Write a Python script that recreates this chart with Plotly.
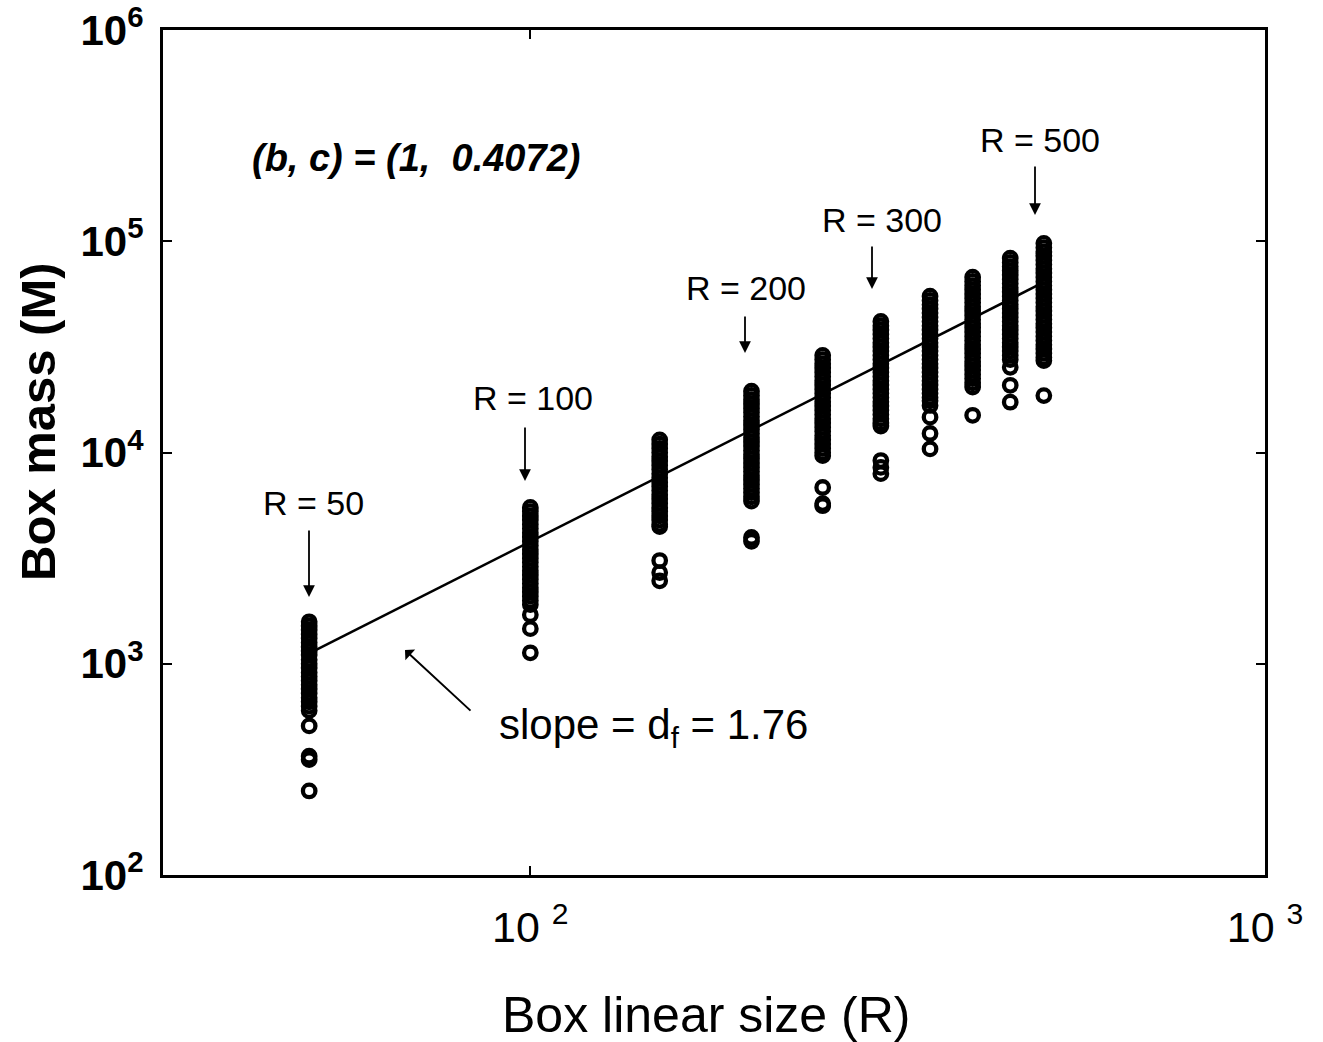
import math
import plotly.graph_objects as go

# ---------------- data ----------------
box_sizes = [50, 100, 150, 200, 250, 300, 350, 400, 450, 500]

mass_R50 = [1580, 1510, 1445, 1380, 1320, 1260, 1200, 1150, 1100, 1045, 1000,
            955, 910, 870, 830, 795, 760, 725, 690, 660, 630, 600, 508, 365, 352, 250]
mass_R100 = [5495, 5250, 5010, 4790, 4570, 4365, 4170, 3980, 3800, 3630, 3467,
             3311, 3162, 3020, 2884, 2754, 2630, 2512, 2399, 2291, 2188, 2089,
             1995, 1905, 1706, 1466, 1127]
mass_R150 = [11480, 10960, 10470, 10000, 9550, 9120, 8710, 8320, 7940, 7590,
             7240, 6920, 6610, 6310, 6030, 5750, 5495, 5250, 5010, 4790, 4570,
             4460, 3080, 2700, 2470]
mass_R200 = [19500, 18620, 17780, 16980, 16220, 15490, 14790, 14130, 13490,
             12880, 12300, 11750, 11220, 10720, 10230, 9770, 9330, 8910, 8510,
             8130, 7760, 7410, 7080, 6760, 6460, 6170, 5890, 3960, 3800]
mass_R250 = [28840, 27540, 26300, 25120, 23990, 22910, 21880, 20890, 19950,
             19050, 18200, 17380, 16600, 15850, 15140, 14450, 13800, 13180,
             12590, 12020, 11480, 10960, 10470, 10000, 9660, 6830, 5730, 5600]
mass_R300 = [41690, 39810, 38020, 36310, 34670, 33110, 31620, 30200, 28840,
             27540, 26300, 25120, 23990, 22910, 21880, 20890, 19950, 19050,
             18200, 17380, 16600, 15850, 15140, 14450, 13800, 13340, 9160,
             8500, 7940]
mass_R350 = [54950, 52480, 50120, 47860, 45710, 43650, 41690, 39810, 38020,
             36310, 34670, 33110, 31620, 30200, 28840, 27540, 26300, 25120,
             23990, 22910, 21880, 20890, 19950, 19050, 18200, 17580, 16700,
             14700, 12300, 10400]
mass_R400 = [67610, 64570, 61660, 58880, 56230, 53700, 51290, 48980, 46770,
             44670, 42660, 40740, 38900, 37150, 35480, 33880, 32360, 30900,
             29510, 28180, 26920, 25700, 24550, 23440, 22390, 21380, 20420, 15000]
mass_R450 = [83180, 79430, 75860, 72440, 69180, 66070, 63100, 60260, 57540,
             54950, 52480, 50120, 47860, 45710, 43650, 41690, 39810, 38020,
             36310, 34670, 33110, 31620, 30200, 28840, 27540, 25300, 20800, 17300]
mass_R500 = [97720, 93330, 89130, 85110, 81280, 77620, 74130, 70790, 67610,
             64570, 61660, 58880, 56230, 53700, 51290, 48980, 46770, 44670,
             42660, 40740, 38900, 37150, 35480, 33880, 32360, 30900, 29510,
             28180, 27230, 18600]

masses = [mass_R50, mass_R100, mass_R150, mass_R200, mass_R250,
          mass_R300, mass_R350, mass_R400, mass_R450, mass_R500]

fit_R = [50, 500]
fit_M = [1120, 64000]

x_tick_vals = [100, 1000]
x_tick_text = ["10 <sup>2</sup>", "10 <sup>3</sup>"]
y_tick_vals = [1e2, 1e3, 1e4, 1e5, 1e6]
y_tick_text = ["10<sup>2</sup>", "10<sup>3</sup>", "10<sup>4</sup>",
               "10<sup>5</sup>", "10<sup>6</sup>"]

arrow_labels = ["R = 50", "R = 100", "R = 200", "R = 300", "R = 500"]

# ---------------- figure ----------------
W, H = 1323, 1042
L, R_, T, B = 163, 1265, 30, 875
FONT = "Liberation Sans, Arial, Helvetica, sans-serif"


def px(x):
    return (x - L) / (R_ - L)


def py(y):
    return (B - y) / (B - T)


all_x, all_y = [], []
for r, ms in zip(box_sizes, masses):
    all_x += [r] * len(ms)
    all_y += ms

fig = go.Figure()
fig.add_trace(go.Scatter(
    x=fit_R, y=fit_M, mode="lines",
    line=dict(color="black", width=2.5), showlegend=False))
fig.add_trace(go.Scatter(
    x=all_x, y=all_y, mode="markers",
    marker=dict(symbol="circle-open", size=12.5, color="black",
                line=dict(width=4.3, color="black")),
    hoverinfo="x+y", showlegend=False))

annotations = []
label_pos = [(313, 503), (533, 398), (746, 288), (882, 220), (1040, 140)]
arrow_tip = [(309, 597, -68), (525, 481, -55), (745, 353, -38),
             (872, 289, -44), (1035, 215, -50)]
for lab, (tx, ty), (ax_, ay_, dy) in zip(arrow_labels, label_pos, arrow_tip):
    annotations.append(dict(xref="paper", yref="paper", x=px(tx), y=py(ty),
                            text=lab, showarrow=False,
                            font=dict(family=FONT, size=34, color="black"),
                            xanchor="center", yanchor="middle"))
    annotations.append(dict(xref="paper", yref="paper", x=px(ax_), y=py(ay_),
                            text="", showarrow=True, ax=0, ay=dy,
                            arrowhead=2, arrowsize=1.3, arrowwidth=1.8,
                            arrowcolor="black"))

annotations.append(dict(xref="paper", yref="paper", x=px(416), y=py(158),
                        text="<b><i>(b, c) = (1,  0.4072)</i></b>",
                        showarrow=False,
                        font=dict(family=FONT, size=38, color="black"),
                        xanchor="center", yanchor="middle"))
annotations.append(dict(xref="paper", yref="paper", x=px(653), y=py(727),
                        text="slope = d<sub>f</sub> = 1.76", showarrow=False,
                        font=dict(family=FONT, size=42, color="black"),
                        xanchor="center", yanchor="middle"))
annotations.append(dict(xref="paper", yref="paper", x=px(405), y=py(650),
                        text="", showarrow=True, ax=67, ay=62,
                        arrowhead=1, arrowsize=1.2, arrowwidth=2,
                        arrowcolor="black"))
annotations.append(dict(xref="paper", yref="paper", x=px(706), y=py(1015),
                        text="Box linear size (R)", showarrow=False,
                        font=dict(family=FONT, size=50, color="black"),
                        xanchor="center", yanchor="middle"))
annotations.append(dict(xref="paper", yref="paper", x=px(38), y=py(422),
                        text="<b>Box mass (M)</b>", showarrow=False,
                        textangle=-90,
                        font=dict(family=FONT, size=49, color="black"),
                        xanchor="center", yanchor="middle"))

fig.update_layout(
    width=W, height=H,
    margin=dict(l=L, r=W - R_, t=T, b=H - B, autoexpand=False),
    paper_bgcolor="white", plot_bgcolor="white",
    font=dict(family=FONT, color="black"),
    annotations=annotations,
    xaxis=dict(type="log", range=[1.5, 3], tickvals=x_tick_vals,
               ticktext=x_tick_text, ticks="inside", ticklen=9, tickwidth=2,
               tickcolor="black", showline=True, linewidth=3,
               linecolor="black", mirror="ticks", showgrid=False,
               zeroline=False, tickfont=dict(family=FONT, size=43),
               ticklabelstandoff=12, ticklabeloverflow="allow",
               automargin=False),
    yaxis=dict(type="log", range=[2, 6], tickvals=y_tick_vals,
               ticktext=[f"<b>{t}</b>" for t in y_tick_text], ticks="inside",
               ticklen=9, tickwidth=2, tickcolor="black", showline=True,
               linewidth=3, linecolor="black", mirror="ticks",
               showgrid=False, zeroline=False,
               tickfont=dict(family=FONT, size=42), ticklabelstandoff=8,
               ticklabeloverflow="allow", automargin=False),
)

fig.write_html("out.html")
